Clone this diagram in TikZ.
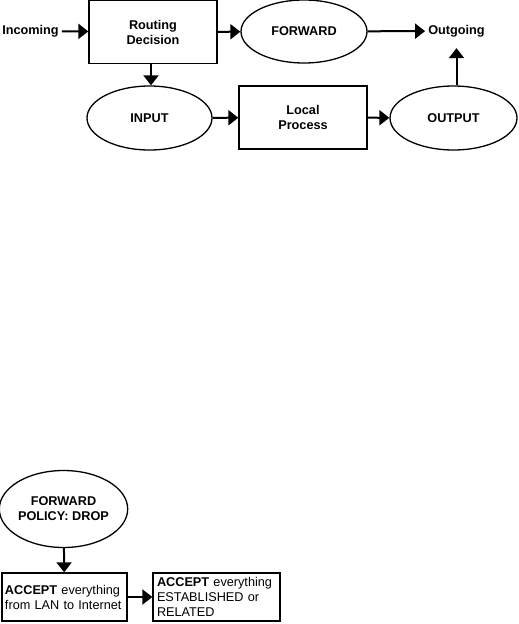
\documentclass[tikz,border=0pt]{standalone}
\usepackage{fontspec}
\setmainfont{Liberation Sans}
\usepackage{tikz}
\usetikzlibrary{arrows.meta,positioning,calc,shapes.geometric}

\begin{document}
\begin{tikzpicture}[
  x=1pt, y=-1pt,
  box/.style={rectangle, draw, line width=1.3pt, inner sep=2pt,
              minimum width=128pt, minimum height=63pt, align=center,
              font=\fontsize{12.7}{15}\selectfont\bfseries},
  chain/.style={ellipse, draw, line width=1.3pt, inner sep=0pt,
                minimum width=126pt, minimum height=63pt, align=center,
                font=\fontsize{12.7}{15}\selectfont\bfseries},
  rule/.style={rectangle, draw, line width=1.3pt, inner sep=3pt,
               text width=119pt, minimum height=48pt, align=left,
               font=\fontsize{12.7}{15}\selectfont},
  tag/.style={inner sep=3pt, font=\fontsize{12.7}{15}\selectfont\bfseries},
  flow/.style={-{Triangle[length=10pt,width=15pt]}, line width=2pt}]

\useasboundingbox (0,0) rectangle (519,624);

% ================= the packet path =======================================
\begin{scope}
  \node[tag]   (incoming) at ( 30.5, 31)   {Incoming};
  \node[box]   (routing)  at (153,   32)   {Routing\\Decision};
  \node[chain] (forward)  at (304,   31.5) {FORWARD};
  \node[tag]   (outgoing) at (456.5, 31)   {Outgoing};

  \node[chain, minimum width=125pt, minimum height=64pt]
               (input)    at (149.5,118)   {INPUT};
  \node[box]   (local)    at (303,  117.5) {Local\\Process};
  \node[chain, minimum width=127pt, minimum height=64pt]
               (output)   at (453.5,118)   {OUTPUT};

  \draw[flow] (incoming) -- (routing);
  \draw[flow] (routing) -- (forward);
  \draw[flow] (forward) -- (outgoing);
  \draw[flow] (routing.south -| 151,0) -- (input.north -| 151,0);
  \draw[flow] (input) -- (local);
  \draw[flow] (local) -- (output);
  \draw[flow, shorten >=8pt] (outgoing.south |- output.north) -- (outgoing.south);
\end{scope}

% ================= the forward chain rules ===============================
\begin{scope}
  \node[chain, minimum width=125pt, minimum height=77pt]
              (policy) at (63.5,509) {FORWARD\\POLICY: DROP};
  \node[rule] (lan)    at (64.5,597) {\textbf{ACCEPT} everything\\from LAN to Internet};
  \node[rule, minimum width=127pt] (est) at (216.5,597)
              {\textbf{ACCEPT} everything\\ESTABLISHED or\\RELATED};

  \draw[flow] (policy) -- (lan);
  \draw[flow] (lan) -- (est);
\end{scope}

\end{tikzpicture}
\end{document}
